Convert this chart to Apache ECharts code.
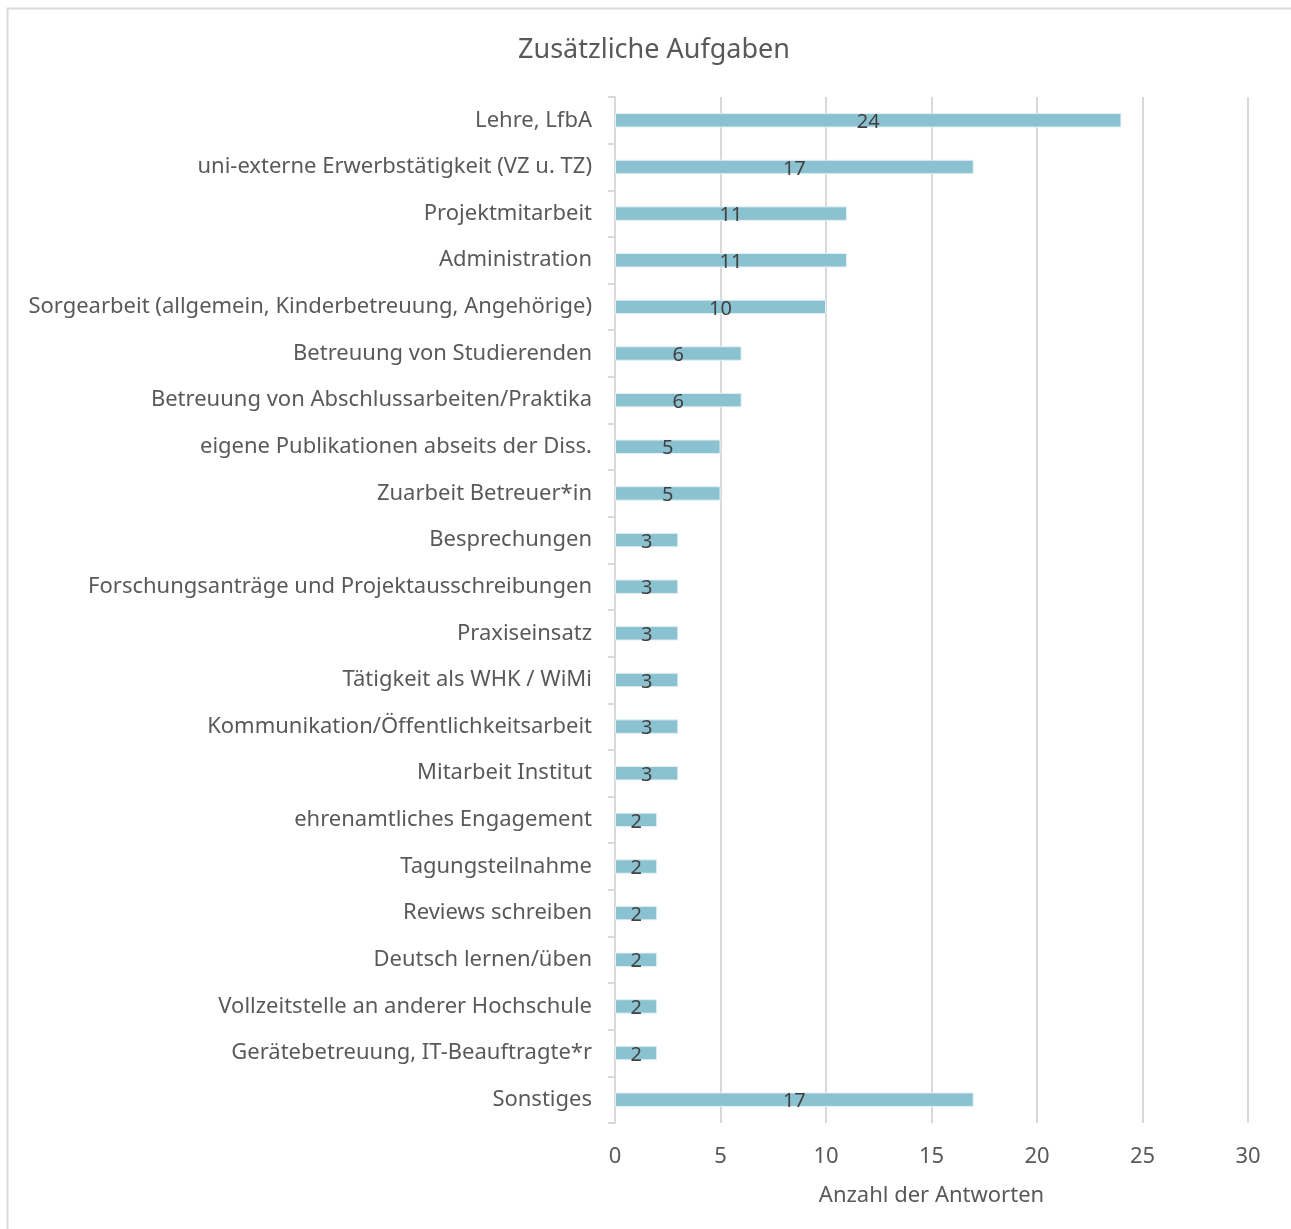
<!DOCTYPE html>
<html><head><meta charset="utf-8">
<script src="https://cdn.jsdelivr.net/npm/echarts@6/dist/echarts.min.js"></script>
<style>html,body{margin:0;padding:0;background:#fff}#c{width:1291px;height:1229px}</style>
</head><body><div id="c"></div>
<script>
const categories = [
  "Lehre, LfbA",
  "uni-externe Erwerbstätigkeit (VZ u. TZ)",
  "Projektmitarbeit",
  "Administration",
  "Sorgearbeit (allgemein, Kinderbetreuung, Angehörige)",
  "Betreuung von Studierenden",
  "Betreuung von Abschlussarbeiten/Praktika",
  "eigene Publikationen abseits der Diss.",
  "Zuarbeit Betreuer*in",
  "Besprechungen",
  "Forschungsanträge und Projektausschreibungen",
  "Praxiseinsatz",
  "Tätigkeit als WHK / WiMi",
  "Kommunikation/Öffentlichkeitsarbeit",
  "Mitarbeit Institut",
  "ehrenamtliches Engagement",
  "Tagungsteilnahme",
  "Reviews schreiben",
  "Deutsch lernen/üben",
  "Vollzeitstelle an anderer Hochschule",
  "Gerätebetreuung, IT-Beauftragte*r",
  "Sonstiges"
];
const values = [24, 17, 11, 11, 10, 6, 6, 5, 5, 3, 3, 3, 3, 3, 3, 2, 2, 2, 2, 2, 2, 17];
const xTicks = [0, 5, 10, 15, 20, 25, 30];

const FONT = "Noto Sans";
const chart = echarts.init(document.getElementById('c'));
chart.setOption({
  animation: false,
  graphic: [{
    type: 'rect', shape: {x: 7.5, y: 8.5, width: 1300, height: 1240},
    style: {fill: 'none', stroke: '#d9d9d9', lineWidth: 2}, silent: true
  }],
  title: {
    text: 'Zusätzliche Aufgaben', left: 649, top: 32, textAlign: 'center',
    textStyle: {fontFamily: FONT, fontWeight: 'normal', fontSize: 27, color: '#595959'}
  },
  grid: {left: 615, right: 43, top: 97, bottom: 106, containLabel: false},
  xAxis: {
    type: 'value', min: 0, max: 30, interval: 5,
    name: 'Anzahl der Antworten', nameLocation: 'middle', nameGap: 62,
    nameTextStyle: {fontFamily: FONT, fontSize: 22, color: '#595959'},
    axisLine: {show: false}, axisTick: {show: false},
    axisLabel: {fontFamily: FONT, fontSize: 22, color: '#595959', margin: 23,
      formatter: v => xTicks.includes(v) ? String(v) : ''},
    splitLine: {show: true, lineStyle: {color: '#d9d9d9', width: 2}}
  },
  yAxis: {
    type: 'category', data: categories, inverse: true,
    axisLine: {show: true, lineStyle: {color: '#d9d9d9', width: 2}},
    axisTick: {show: true, length: 7, lineStyle: {color: '#d9d9d9', width: 2}},
    axisLabel: {fontFamily: FONT, fontSize: 22, color: '#595959', margin: 23, padding: [5, 0, 0, 0]}
  },
  series: [{
    type: 'bar', data: values, barWidth: '31%',
    itemStyle: {color: '#8bc2d1', borderColor: '#e3f0f4', borderWidth: 1},
    label: {show: true, position: 'inside', offset: [0, 2],
      fontFamily: FONT, fontSize: 20, color: '#404040'}
  }]
});
</script></body></html>
